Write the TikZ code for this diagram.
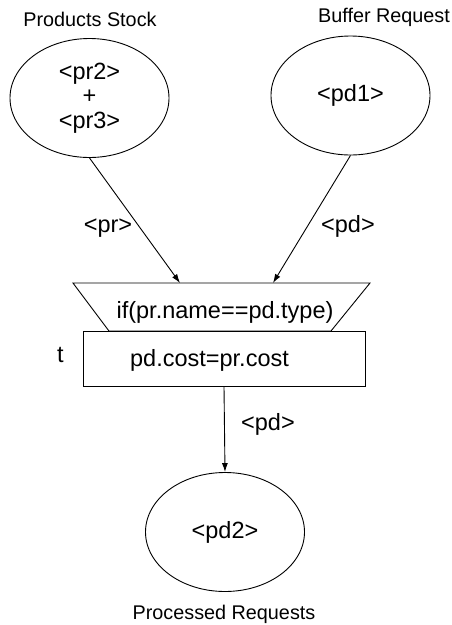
\documentclass[tikz,border=0pt]{standalone}
\usepackage{fontspec}
\setmainfont{Liberation Sans}
\usetikzlibrary{shapes.geometric}
\usetikzlibrary{arrows.meta}
\usetikzlibrary{positioning}

\tikzset{
  line/.style={draw=black,line width=0.9pt},
  place/.style={ellipse,line,inner sep=0pt,minimum width=159pt,minimum height=119pt,align=center,font=\fontsize{23.5}{24.5}\selectfont},
  action/.style={rectangle,line,minimum width=282pt,minimum height=55pt,inner sep=0pt},
  caption/.style={font=\fontsize{19.8}{22}\selectfont,anchor=base},
  inscr/.style={font=\fontsize{23.5}{26}\selectfont,anchor=base},
  flow/.style={line,-{Latex[length=9pt,width=6pt]}}
}

\begin{document}
\begin{tikzpicture}[x=1pt,y=-1pt]
\useasboundingbox (0,0) rectangle (451,625);

% places
\node[place] (stock) at (89.5,98) {<pr2>\\+\\<pr3>};
\node[place] (buffer) at (350.5,95.5) {<pd1>};
\node[place] (processed) at (225,532) {<pd2>};
\node[caption] (stockname) at (90,26) {Products Stock};
\node[caption] (buffername) at (384,22) {Buffer Request};
\node[caption] (processedname) at (224,619) {Processed Requests};

% transition
\coordinate (guardnw) at (73,283);
\coordinate (guardne) at (370,283);
\coordinate (guardse) at (331,331);
\coordinate (guardsw) at (109,331);
\draw[line] (guardnw) -- (guardne) -- (guardse) -- (guardsw) -- cycle;
\node[inscr] (guardtext) at (225,318) {if(pr.name==pd.type)};
\node[action] (trans) at (224,358.5) {};
\node[inscr] (transtext) at (209.5,366) {pd.cost=pr.cost};
\node[inscr] (transname) at (60.5,362) {t};
\coordinate (inpr) at (180,283);
\coordinate (inpd) at (273,283);

% arcs
\draw[flow] (stock.south) -- (inpr);
\draw[flow] (buffer.south) -- (inpd);
\draw[flow] (trans.south) -- (processed.north);
\node[inscr] (prlabel) at (108,232) {<pr>};
\node[inscr] (pdlabel) at (348,232) {<pd>};
\node[inscr] (outlabel) at (268,430) {<pd>};

\end{tikzpicture}
\end{document}
